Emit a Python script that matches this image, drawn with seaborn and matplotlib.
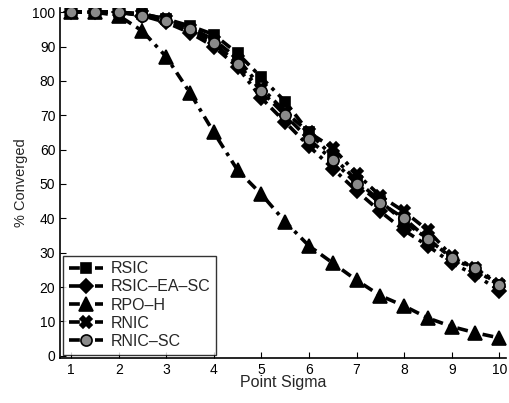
import matplotlib
matplotlib.use("Agg")
import matplotlib.pyplot as plt
import seaborn as sns
import pandas as pd

sigma = [1, 1.5, 2, 2.5, 3, 3.5, 4, 4.5, 5, 5.5, 6, 6.5, 7, 7.5, 8, 8.5, 9, 9.5, 10]

rsic       = [100, 100, 100, 99.5, 98, 96, 93.5, 88, 81, 74, 65, 58, 51, 45, 39, 34, 28.5, 25, 20.5]
rsic_ea_sc = [100, 100, 100, 99, 97, 94, 90, 84, 75, 68, 61, 54.5, 48, 42, 36.5, 32, 27, 23.5, 19]
rpo_h      = [100, 100, 99, 94.5, 87, 76.5, 65, 54, 47, 39, 32, 27, 22, 17.5, 14.5, 11, 8.5, 6.7, 5.2]
rnic       = [100, 100, 100, 99.5, 98, 95.5, 92, 86.5, 78, 71, 65, 60.5, 53, 46.5, 42, 36.5, 29, 25.5, 21]
rnic_sc    = [100, 100, 100, 99, 97.5, 95, 91, 85, 77, 70, 63, 57, 50, 44.5, 40, 34, 28.5, 25.5, 20.5]

names = ["RSIC", "RSIC\u2013EA\u2013SC", "RPO\u2013H", "RNIC", "RNIC\u2013SC"]
series = [rsic, rsic_ea_sc, rpo_h, rnic, rnic_sc]

df = pd.concat(
    [pd.DataFrame({"sigma": sigma, "conv": vals, "method": name})
     for name, vals in zip(names, series)],
    ignore_index=True,
)

sns.set_style("ticks")
plt.rcParams["font.family"] = ["Liberation Sans", "DejaVu Sans"]

fig = plt.figure(figsize=(5.1, 4.03), dpi=100)
ax = fig.add_axes([0.118, 0.112, 0.874, 0.868])

markers = {names[0]: "s", names[1]: "D", names[2]: "^", names[3]: "X", names[4]: "o"}
sizes = {names[0]: 7, names[1]: 7, names[2]: 10, names[3]: 8, names[4]: 8}
faces = {names[0]: "black", names[1]: "black", names[2]: "black",
         names[3]: "black", names[4]: "#8a8a8a"}
dash = (0, (3, 1.6, 1, 1.6))

for name in names:
    sub = df[df["method"] == name]
    sns.lineplot(data=sub, x="sigma", y="conv", ax=ax, color="black",
                 linewidth=2.6, linestyle=dash, marker=markers[name],
                 markersize=sizes[name], markerfacecolor=faces[name],
                 markeredgecolor="black", markeredgewidth=1.2, label=name)

ax.set_xlim(0.77, 10.14)
ax.set_ylim(-0.6, 101.2)
ax.set_xticks(range(1, 11))
ax.set_yticks(range(0, 101, 10))
ax.tick_params(direction="in", length=4, labelsize=10, colors="black")
for s in ("top", "right"):
    ax.spines[s].set_visible(False)
for s in ("left", "bottom"):
    ax.spines[s].set_linewidth(1.2)
    ax.spines[s].set_color("black")

ax.set_xlabel("Point Sigma", fontsize=11.5, labelpad=-1)
ax.set_ylabel("% Converged", fontsize=10.5, labelpad=3)

leg = ax.legend(loc="lower left", fontsize=11.5, handlelength=2.1,
                handletextpad=0.5, labelspacing=0.2, borderpad=0.35,
                borderaxespad=0.2, frameon=True, fancybox=False)
leg.get_frame().set_edgecolor("black")
leg.get_frame().set_linewidth(1.0)

fig.savefig("out.png", dpi=100, facecolor="white")
